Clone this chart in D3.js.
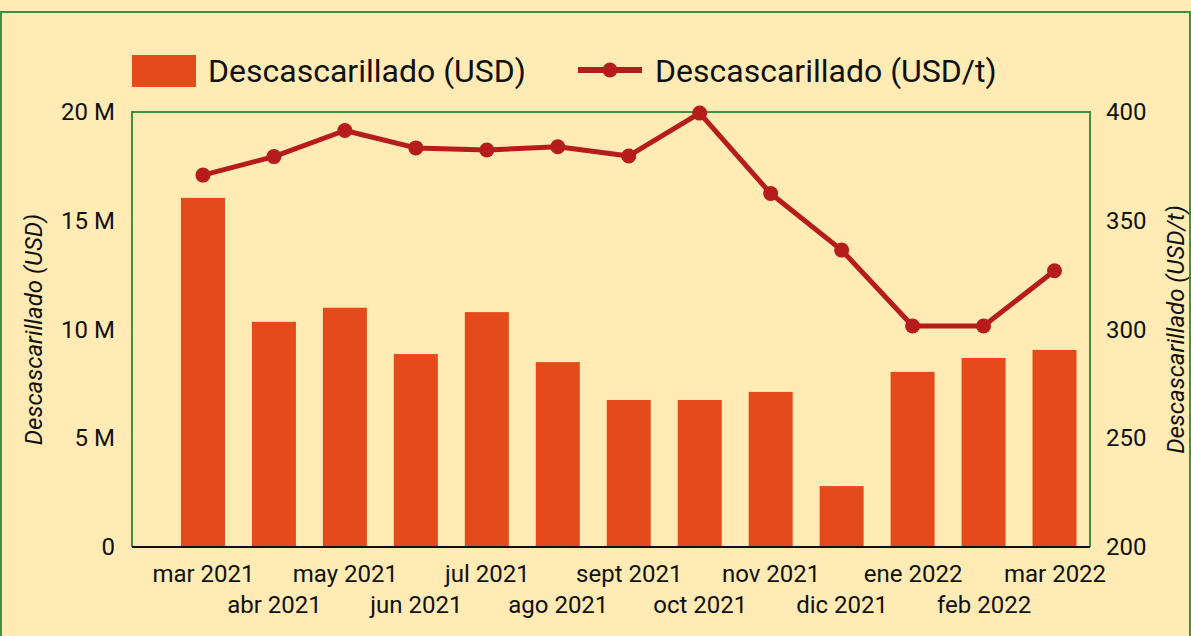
<!DOCTYPE html>
<html><head><meta charset="utf-8">
<script src="https://cdn.jsdelivr.net/npm/d3@7"></script>
<style>
html,body{margin:0;padding:0;background:#ffebb3;}
svg{display:block;font-family:Roboto, "Noto Sans", sans-serif;}
</style></head>
<body>
<script>
const months = ["mar 2021","abr 2021","may 2021","jun 2021","jul 2021","ago 2021","sept 2021","oct 2021","nov 2021","dic 2021","ene 2022","feb 2022","mar 2022"];
const valuesUSD = [16.05e6,10.35e6,11.0e6,8.87e6,10.8e6,8.5e6,6.76e6,6.76e6,7.13e6,2.8e6,8.05e6,8.69e6,9.06e6];
const pricePerTon = [371,379.5,391.5,383.5,382.5,384,379.8,399.5,362.5,336.5,301.6,301.6,327];
const leftTicks = [0,5e6,10e6,15e6,20e6];
const leftTickLabels = ["0","5 M","10 M","15 M","20 M"];
const rightTicks = [200,250,300,350,400];
const seriesNames = ["Descascarillado (USD)","Descascarillado (USD/t)"];

const W=1191,H=636;
const m={left:132,right:1090,top:112,bottom:547};
const svg=d3.select("body").append("svg").attr("width",W).attr("height",H);
svg.append("rect").attr("width",W).attr("height",H).attr("fill","#ffebb3");
svg.append("rect").attr("x",1).attr("y",12).attr("width",W-2).attr("height",H+10)
  .attr("fill","none").attr("stroke","#3d9140").attr("stroke-width",2);

const x=d3.scaleLinear().domain([-1,12.5]).range([m.left,m.right]);
const yL=d3.scaleLinear().domain([0,20e6]).range([m.bottom,m.top]);
const yR=d3.scaleLinear().domain([200,400]).range([m.bottom,m.top]);
const bw=44;

// plot frame
svg.append("path").attr("d",`M${m.left},${m.bottom}V${m.top}H${m.right}V${m.bottom}`)
  .attr("fill","none").attr("stroke","#3d9140").attr("stroke-width",2);

// bars
svg.append("g").selectAll("rect").data(valuesUSD).join("rect")
  .attr("x",(d,i)=>x(i)-bw/2).attr("width",bw)
  .attr("y",d=>yL(d)).attr("height",d=>yL(0)-yL(d))
  .attr("fill","#e54a1b");

// baseline
svg.append("line").attr("x1",m.left).attr("x2",m.right).attr("y1",m.bottom).attr("y2",m.bottom)
  .attr("stroke","#111").attr("stroke-width",2);

// line
const line=d3.line().x((d,i)=>x(i)).y(d=>yR(d));
svg.append("path").datum(pricePerTon).attr("d",line).attr("fill","none")
  .attr("stroke","#b71c1c").attr("stroke-width",5).attr("stroke-linejoin","round");
svg.append("g").selectAll("circle").data(pricePerTon).join("circle")
  .attr("cx",(d,i)=>x(i)).attr("cy",d=>yR(d)).attr("r",7.5).attr("fill","#b71c1c");

// left axis
const gl=svg.append("g").attr("transform",`translate(${m.left},0)`)
  .call(d3.axisLeft(yL).tickValues(leftTicks).tickFormat((d,i)=>leftTickLabels[i]).tickSize(0).tickPadding(17));
gl.select(".domain").remove();
gl.selectAll("text").attr("font-size",24).attr("fill","#111").attr("font-family","Roboto");

// right axis
const gr=svg.append("g").attr("transform",`translate(${m.right},0)`)
  .call(d3.axisRight(yR).tickValues(rightTicks).tickFormat(d3.format("d")).tickSize(0).tickPadding(16));
gr.select(".domain").remove();
gr.selectAll("text").attr("font-size",24).attr("fill","#111").attr("font-family","Roboto");

// bottom axis
const gb=svg.append("g").attr("transform",`translate(0,${m.bottom})`)
  .call(d3.axisBottom(x).tickValues(d3.range(months.length)).tickFormat(i=>months[i]).tickSize(0));
gb.select(".domain").remove();
gb.selectAll("text").attr("font-size",24).attr("fill","#111").attr("font-family","Roboto")
  .attr("y",(d,i)=>i%2===0?35:66).attr("dy",0);

// axis titles
svg.append("text").attr("transform",`translate(42,${(m.top+m.bottom)/2}) rotate(-90)`)
  .attr("text-anchor","middle").attr("font-size",24).attr("font-style","italic").attr("fill","#111")
  .text(seriesNames[0]);
svg.append("text").attr("transform",`translate(1184,${(m.top+m.bottom)/2}) rotate(-90)`)
  .attr("text-anchor","middle").attr("font-size",24).attr("font-style","italic").attr("fill","#111")
  .text(seriesNames[1]);

// legend
const lg=svg.append("g");
lg.append("rect").attr("x",132).attr("y",55).attr("width",64).attr("height",32).attr("fill","#e54a1b");
lg.append("text").attr("x",208).attr("y",71).attr("dy","0.35em").attr("font-size",32).attr("fill","#111").text(seriesNames[0]);
lg.append("line").attr("x1",578).attr("x2",642).attr("y1",70).attr("y2",70).attr("stroke","#b71c1c").attr("stroke-width",6);
lg.append("circle").attr("cx",610).attr("cy",70).attr("r",7.5).attr("fill","#b71c1c");
lg.append("text").attr("x",655).attr("y",71).attr("dy","0.35em").attr("font-size",32).attr("fill","#111").text(seriesNames[1]);
</script>
</body></html>
